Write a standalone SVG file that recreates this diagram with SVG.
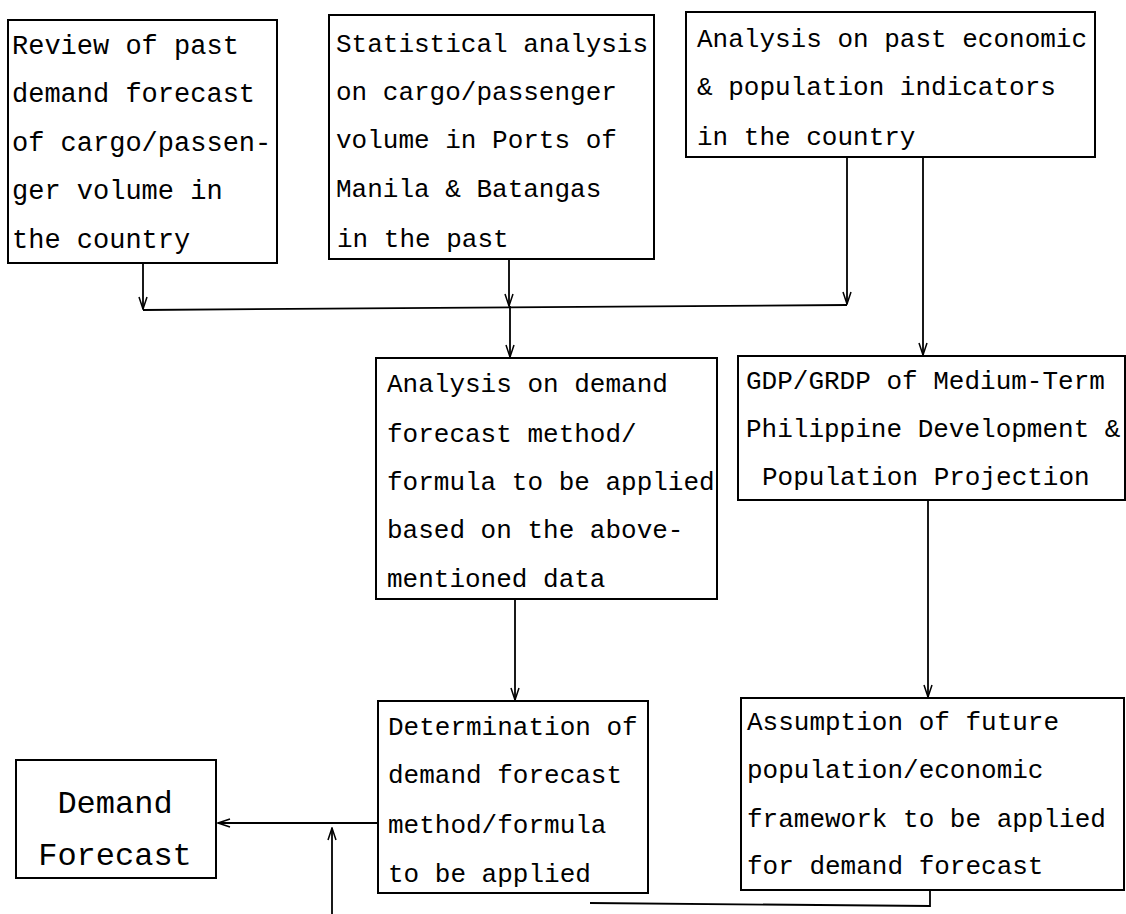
<svg xmlns="http://www.w3.org/2000/svg" width="1126" height="914" viewBox="0 0 1126 914">
<defs>
<marker id="arr" viewBox="0 0 14 10" refX="13" refY="5" markerWidth="14" markerHeight="10" markerUnits="userSpaceOnUse" orient="auto">
<path d="M1,1 L13,5 L1,9" fill="none" stroke="#000" stroke-width="1.5"/>
</marker>
</defs>
<style>
.box{fill:#fff;stroke:#000;stroke-width:2}
.t{font-family:"Liberation Mono","DejaVu Sans Mono",monospace;font-size:26px;fill:#000}
.t1{font-size:27px}
.big{font-family:"Liberation Mono","DejaVu Sans Mono",monospace;font-size:32px;fill:#000}
.c{fill:none;stroke:#000;stroke-width:1.8}
</style>
<rect width="1126" height="914" fill="#fff"/>
<g id="connectors">
<path class="c" d="M143,263 V309" marker-end="url(#arr)"/>
<path class="c" d="M509,259 V306" marker-end="url(#arr)"/>
<path class="c" d="M847,157 V304" marker-end="url(#arr)"/>
<path class="c" d="M143,310 L847,305"/>
<path class="c" d="M510,306 V357" marker-end="url(#arr)"/>
<path class="c" d="M923,157 V355" marker-end="url(#arr)"/>
<path class="c" d="M515,599 V700" marker-end="url(#arr)"/>
<path class="c" d="M928,500 V697" marker-end="url(#arr)"/>
<path class="c" d="M378,823 H218" marker-end="url(#arr)"/>
<path class="c" d="M332,914 V828" marker-end="url(#arr)"/>
<path class="c" d="M930,890 V906 L590,903"/>
</g>
<g id="n1">
<rect class="box" x="8" y="20" width="269" height="243"/>
<text class="t t1" x="12" y="54">Review of past</text>
<text class="t t1" x="12" y="102">demand forecast</text>
<text class="t t1" x="12" y="151">of cargo/passen-</text>
<text class="t t1" x="12" y="199">ger volume in</text>
<text class="t t1" x="12" y="248">the country</text>
</g>
<g id="n2">
<rect class="box" x="329" y="15" width="325" height="244"/>
<text class="t" x="336" y="52">Statistical analysis</text>
<text class="t" x="336" y="100">on cargo/passenger</text>
<text class="t" x="336" y="148">volume in Ports of</text>
<text class="t" x="336" y="197">Manila &amp; Batangas</text>
<text class="t" x="337" y="247">in the past</text>
</g>
<g id="n3">
<rect class="box" x="686" y="12" width="409" height="145"/>
<text class="t" x="697" y="47">Analysis on past economic</text>
<text class="t" x="697" y="95">&amp; population indicators</text>
<text class="t" x="697" y="145">in the country</text>
</g>
<g id="n4">
<rect class="box" x="376" y="358" width="341" height="241"/>
<text class="t" x="387" y="392">Analysis on demand</text>
<text class="t" x="387" y="442">forecast method/</text>
<text class="t" x="387" y="490">formula to be applied</text>
<text class="t" x="387" y="538">based on the above-</text>
<text class="t" x="387" y="587">mentioned data</text>
</g>
<g id="n5">
<rect class="box" x="738" y="356" width="387" height="144"/>
<text class="t" x="746" y="389">GDP/GRDP of Medium-Term</text>
<text class="t" x="746" y="437">Philippine Development &amp;</text>
<text class="t" x="762" y="485">Population Projection</text>
</g>
<g id="n6">
<rect class="box" x="378" y="701" width="270" height="192"/>
<text class="t" x="388" y="735">Determination of</text>
<text class="t" x="388" y="783">demand forecast</text>
<text class="t" x="388" y="833">method/formula</text>
<text class="t" x="388" y="882">to be applied</text>
</g>
<g id="n7">
<rect class="box" x="741" y="698" width="383" height="192"/>
<text class="t" x="747" y="730">Assumption of future</text>
<text class="t" x="747" y="778">population/economic</text>
<text class="t" x="747" y="827">framework to be applied</text>
<text class="t" x="747" y="874">for demand forecast</text>
</g>
<g id="n8">
<rect class="box" x="16" y="760" width="200" height="118"/>
<text class="big" x="115" y="813" text-anchor="middle">Demand</text>
<text class="big" x="115" y="865" text-anchor="middle">Forecast</text>
</g>
</svg>
